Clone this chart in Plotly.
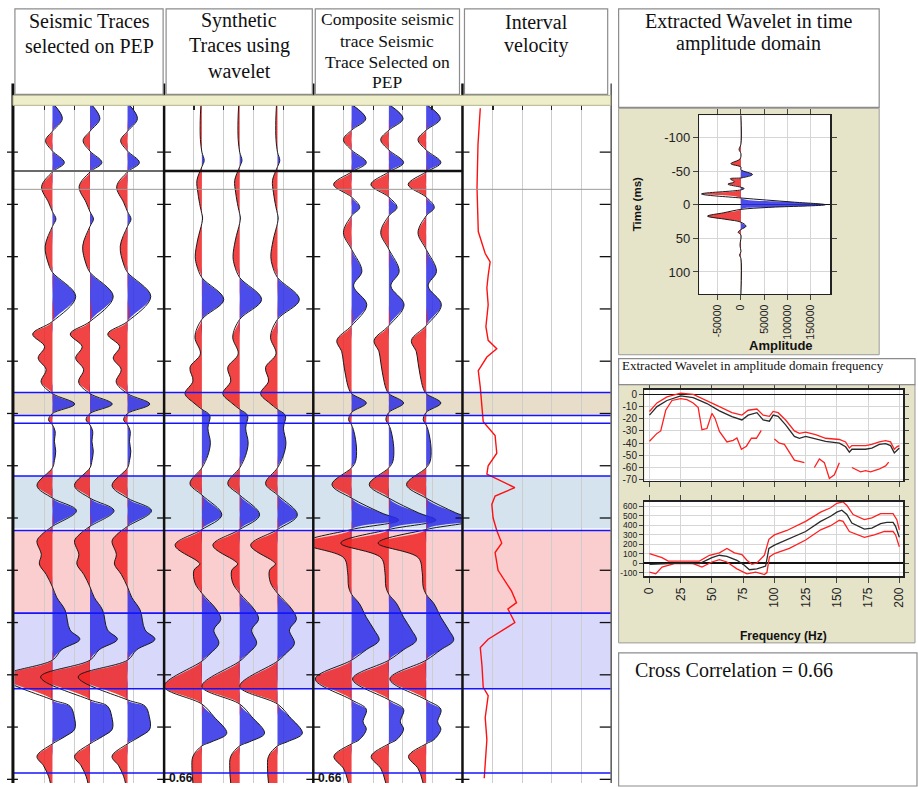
import plotly.graph_objects as go

W, H = 918, 787


def px(x):
    return x / W


def py(y):
    return 1 - y / H


# ---------------- data ----------------
TIME_TICKS = list(range(50, 651, 50))          # ms
TRACE_OFFSETS = [38, 76, 114]                   # trace baselines inside each 150-unit panel
PANEL_GRID = [30, 60, 90, 120]

# Seismic traces selected on PEP (time ms, amplitude)
SEIS_T = [5, 18, 30, 39, 49, 60, 69, 83, 98, 107, 114, 121, 140, 157, 165, 188, 212, 224, 236, 247,
          258, 270, 281, 291, 300, 306, 311, 317, 327, 336, 345, 352, 369, 381, 393, 408, 416, 422, 435, 444,
          454, 466, 476, 488, 507, 516, 526, 536, 552, 574, 580, 590, 602, 609, 616, 628, 637, 647, 654]
SEIS_A = [2, 10, 0, -7, 0, 12, 0, -11, -4, 0, 3.5, 0, -7.4, -4, 0, 23.5, 0, -20, -8, -14.5,
          -6.5, -11.5, 0, 22.5, 0, -4, 0, 2.7, 2, 3.3, 2, 0, -15.7, 0, 24.3, 0, -11, -15.7, -11.3, -13.3,
          -6.3, 0, 4.3, 12.7, 17.7, 27.7, 9.3, 0, -50, 0, 17.7, 22, 22.5, 12.7, 0, -15.7, -9, -4, -2]

# Synthetic traces using wavelet
SYN_T = [5, 20, 38, 50, 58, 64, 77, 89, 102, 109, 113, 118, 134, 150, 159, 170, 191, 210, 227, 243,
         256, 269, 281, 290, 296, 302, 314, 328, 340, 352, 367, 378, 397, 411, 426, 441, 444, 450, 462, 472,
         488, 497, 507, 520, 530, 537, 561, 578, 590, 606, 614, 618, 628, 640, 654]
SYN_A = [-1, -1.7, -1.5, 0, 2.3, 0, -5, -4, -1.7, 0, 0.7, 0, -4.3, -6.7, -5, 0, 22, 0, -7, -1.5,
         -12, -9, -17, -8, 0, 8, 6, 8.5, 6, 0, -12, 0, 20, 0, -27, -5, -2, -8, -7, 0,
         15, 19, 12, 17, 8, 0, -38, 0, 12, 25, 10, 0, -9, -10, -9]

# Composite seismic trace
COMP_T = [5, 18, 29, 38, 48, 60, 69, 81, 93, 103, 111, 127, 143, 164, 178, 196, 216, 230, 241, 251,
          264, 276, 281, 290, 299, 306, 311, 317, 333, 346, 352, 368, 381, 395, 402, 411, 424, 438, 452, 466,
          473, 482, 495, 507, 517, 526, 536, 554, 574, 583, 595, 602, 612, 616, 628, 640, 654]
COMP_A = [1, 14.5, 0, -8.3, 0, 15, 0, -18.3, 0, 8.3, 0, -8.3, 0, 10.5, 2, 15.5, 0, -15, -10, -8.3,
          -6, -3, 0, 15, 0, -3, 0, 2.3, 5, 4, 0, -20, 0, 30, 48, 0, -49, -8, -4, -3,
          0, 8, 15, 23, 28, 15, 0, -37, 0, 15, 11.7, 15, 8, 0, -18, -8, -3]

# Interval velocity (time ms, m/s)
VEL_T = [8, 43, 84, 126, 147, 155, 168, 180, 196, 217, 230, 238, 246, 259, 275, 292, 308, 321, 338, 350,
         358, 371, 379, 387, 400, 412, 424, 433, 450, 470, 481, 487, 500, 516, 524, 541, 562, 570, 591, 612,
         633, 649]
VEL_V = [1571, 1493, 1460, 1503, 1738, 1906, 1839, 1795, 1839, 1762, 1839, 2131, 1795, 1503, 1571, 1628, 1671,
         2074, 2131, 1839, 1795, 2745, 2074, 1963, 2007, 2131, 2299, 2074, 2175, 2634, 2802, 2510, 2745, 1839,
         1571, 1628, 1671, 1839, 1738, 1795, 1738, 1705]

# horizons (ms) and coloured zones (top, bottom, colour)
HORIZONS = [280, 302, 309.4, 359.8, 412, 491, 563.3, 644]
ZONE_TOP = [280, 359.8, 412, 491]
ZONE_BOT = [302, 409.7, 491, 563.3]
ZONE_COLORS = ["rgb(232,221,200)", "rgb(212,227,238)", "rgb(250,206,206)", "rgb(216,216,250)"]
MARKER_BLACK_T = 68.0
MARKER_GRAY_T = 85.6

# Extracted wavelet (time ms, amplitude)
WAV_T = [-133, -90, -82, -76, -68, -61, -56, -52, -45, -40, -38.5, -34, -30.6, -26, -24, -22, -16, -10, -4,
         0, 4, 7, 12, 17, 22, 26, 32, 37, 41, 45, 60, 70, 75, 80, 133]
WAV_A = [0, 0, -4000, 0, -2000, -21500, 0, 0, 25000, 2000, -23000, -14000, -28000, 0, 7000, 0, -85000, 0,
         110000, 182000, 60000, 0, -37000, -72000, -30000, 0, 11000, 0, -6000, 0, -2000, 0, -3000, 0, 0]

# Amplitude spectrum (Hz, dB)
FREQ_F = [0, 6, 14, 25, 35, 46, 56, 66, 74, 79, 86, 91, 96, 99, 103, 109, 116, 120, 125, 133,
          141, 152, 157, 160, 162, 173, 178, 184, 189, 193, 196, 198, 200]
FREQ_MEAN_DB = [-17, -10, -5, -1.3, -2.7, -7.5, -13.5, -18.3, -21, -17, -15, -21, -22, -17, -18, -25, -34.5,
                -36, -34.5, -36.6, -38.5, -40, -43, -47.4, -45, -45, -44, -41, -40.4, -42, -48, -46, -44]
FREQ_UP_DB = [-14, -7, -2, 1, 0, -5, -10, -15, -17, -13, -12, -17, -18, -14, -15, -21, -30, -32, -31, -33,
              -36, -37, -39, -44, -42, -42, -41, -39, -38, -39, -45, -43, -42]
FREQ_LO_F = [0, 6, 9, 13, 18, 25, 30, 35, 39, 42, 46, 50, 52.5, 56, 62, 67, 70, 73.6, 77.6, 81.6, 85.6, 89.5,
             None, 100, 104, 108, 112, 116, 124, None, 132, 136, 140, 144, 148, 152, None, 162, 169, 173, 177,
             183.6, 189, 191.5]
FREQ_LO_DB = [-38.5, -32, -30, -13, -5, -3.5, -4.3, -7, -10.8, -29, -28, -15.6, -19.7, -30.4, -39, -37.7, -35.8,
              -45, -42.5, -36, -36, -29.6, None, -36.6, -40, -41, -48, -54, -56, None, -60, -53, -56, -69, -66,
              -56, None, -60, -63.5, -62.6, -63.5, -61.4, -58.7, -55.5]

# Phase spectrum (Hz, degrees)
PH_MEAN_F = [0, 25, 40, 50, 56, 62, 70, 75, 80, 86, 93, 95.6, 100, 110, 125, 137, 145, 150, 154, 158,
             162, 172, 178, 185, 190, 195, 197, 200]
PH_MEAN = [-14, 0, -7, 57, 82, 71, 29, -14, -71, -61, -32, 154, 189, 243, 332, 439, 493, 536, 557, 511,
           421, 357, 368, 414, 429, 429, 386, 271]
PH_UP_F = [0, 10, 15, 25, 40, 48, 56, 62, 68, 74, 78, 82, 86, 92, 95.6, 100, 110, 125, 137, 145,
           150, 155, 158, 163, 172, 178, 185, 195, 198, 200]
PH_UP = [100, 57, 21, 21, 21, 82, 107, 154, 107, 89, 29, -14, 0, 82, 250, 296, 343, 439, 536, 582,
         629, 643, 607, 511, 457, 475, 521, 521, 457, 350]
PH_LO_F = [0, 5, 10, 20, 35, 42, 50, 56, 62, 70, 78, 85, 92, 94, 96, 100, 112, 125, 137, 145,
           152, 155, 160, 172, 180, 188, 195, 197, 200]
PH_LO = [-96, -114, -43, -7, -7, -43, 11, 36, 11, -61, -114, -96, -121, -100, 64, 100, 154, 243, 350, 393,
         450, 439, 332, 271, 296, 332, 332, 296, 171]

CROSS_CORR = 0.66

# ---------------- styles ----------------
RED = "rgba(238,35,35,0.85)"
BLUE = "rgba(45,45,230,0.85)"
SERIF = "Liberation Serif"
SANS = "Liberation Sans"

fig = go.Figure()


def add_wiggle(t, a, base, xaxis, yaxis):
    pos = [base + max(v, 0) for v in a]
    neg = [base + min(v, 0) for v in a]
    full = [base + v for v in a]
    basel = [base] * len(t)
    c = dict(xaxis=xaxis, yaxis=yaxis, mode="lines", hoverinfo="skip", showlegend=False)
    fig.add_trace(go.Scatter(x=basel, y=t, line=dict(width=0), **c))
    fig.add_trace(go.Scatter(x=pos, y=t, fill="tonextx", fillcolor=BLUE,
                             line=dict(width=0, shape="spline"), **c))
    fig.add_trace(go.Scatter(x=basel, y=t, line=dict(width=0), **c))
    fig.add_trace(go.Scatter(x=neg, y=t, fill="tonextx", fillcolor=RED,
                             line=dict(width=0, shape="spline"), **c))
    fig.add_trace(go.Scatter(x=full, y=t, line=dict(width=1, color="#1a1a1a", shape="spline"), **c))


for (T, A, ax) in [(SEIS_T, SEIS_A, "x"), (SYN_T, SYN_A, "x2"), (COMP_T, COMP_A, "x3")]:
    for off in TRACE_OFFSETS:
        add_wiggle(T, A, off, ax, "y")

fig.add_trace(go.Scatter(x=VEL_V, y=VEL_T, xaxis="x4", yaxis="y", mode="lines",
                         line=dict(color="#ff1010", width=1.4), hoverinfo="skip", showlegend=False))

add_wiggle(WAV_T, WAV_A, 0, "x5", "y5")

for xs, ys, col in [(FREQ_F, FREQ_UP_DB, "#ff2020"), (FREQ_LO_F, FREQ_LO_DB, "#ff2020"),
                    (FREQ_F, FREQ_MEAN_DB, "#2a2a2a")]:
    fig.add_trace(go.Scatter(x=xs, y=ys, xaxis="x6", yaxis="y6", mode="lines", connectgaps=False,
                             line=dict(color=col, width=1.3), hoverinfo="skip", showlegend=False))
for xs, ys, col in [(PH_UP_F, PH_UP, "#ff2020"), (PH_LO_F, PH_LO, "#ff2020"),
                    (PH_MEAN_F, PH_MEAN, "#2a2a2a")]:
    fig.add_trace(go.Scatter(x=xs, y=ys, xaxis="x7", yaxis="y7", mode="lines",
                             line=dict(color=col, width=1.3), hoverinfo="skip", showlegend=False))

# ---------------- axes ----------------
GRID = "#cdcdcd"
main_y_dom = [0, py(105)]
panel_px = [(13, 162), (163, 313), (314, 462), (464, 612)]


def main_x(i, rng, vals):
    return dict(domain=[px(panel_px[i][0]), px(panel_px[i][1])], range=rng, anchor="y", side="top",
                tickvals=vals, ticks="inside", ticklen=5, tickcolor="#222", tickwidth=1.2,
                showticklabels=False, showgrid=True, gridcolor=GRID, gridwidth=1,
                zeroline=False, showline=False, fixedrange=True)


layout = dict(
    width=W, height=H, margin=dict(l=0, r=0, t=0, b=0),
    paper_bgcolor="white", plot_bgcolor="rgba(0,0,0,0)",
    font=dict(family=SANS, color="#111"),
    showlegend=False, hovermode=False,
    xaxis=main_x(0, [0, 150], PANEL_GRID),
    xaxis2=main_x(1, [0, 150], PANEL_GRID),
    xaxis3=main_x(2, [0, 150], PANEL_GRID),
    xaxis4=main_x(3, [1000, 6000], [2000, 3000, 4000, 5000]),
    yaxis=dict(domain=main_y_dom, range=[653.5, 5.23], showgrid=False, zeroline=False,
               showticklabels=False, ticks="", showline=False, anchor="x"),
    xaxis5=dict(domain=[px(701), px(833)], anchor="y5", range=[-90000, 193000],
                tickvals=[-50000, 0, 50000, 100000, 150000],
                ticktext=["-50000", "0", "50000", "100000", "150000"], tickangle=-90,
                ticks="outside", ticklen=5, showline=True, linecolor="#222", linewidth=1.3,
                mirror="ticks", showgrid=True, gridcolor="#d6d6d6", zeroline=False,
                tickfont=dict(family=SANS, size=10.5, color="#222")),
    yaxis5=dict(domain=[py(295), py(115)], anchor="x5", range=[133, -133],
                tickvals=[-100, -50, 0, 50, 100], ticktext=["-100", "-50", "0", "50", "100"],
                ticks="outside", ticklen=5,
                showline=True, linecolor="#222", linewidth=1.3, mirror="ticks",
                showgrid=True, gridcolor="#d6d6d6", zeroline=True, zerolinecolor="#111",
                zerolinewidth=1.5, tickfont=dict(family=SANS, size=13, color="#222")),
    xaxis6=dict(domain=[px(646), px(906)], anchor="y6", range=[-4, 203],
                tickvals=list(range(0, 201, 25)), showticklabels=False, ticks="outside", ticklen=5,
                showline=True, linecolor="#222", linewidth=1.5, mirror="ticks",
                showgrid=True, gridcolor="#d6d6d6", zeroline=False),
    yaxis6=dict(domain=[py(483), py(391)], anchor="x6", range=[-71, 4],
                tickvals=[0, -10, -20, -30, -40, -50, -60, -70],
                ticktext=["0", "-10", "-20", "-30", "-40", "-50", "-60", "-70"],
                ticks="outside", ticklen=4, showline=True, linecolor="#222", linewidth=1.5,
                mirror="ticks", showgrid=True, gridcolor="#d6d6d6", zeroline=True,
                zerolinecolor="#111", zerolinewidth=1.5,
                tickfont=dict(family=SANS, size=10, color="#222")),
    xaxis7=dict(domain=[px(646), px(906)], anchor="y7", range=[-4, 203],
                tickvals=list(range(0, 201, 25)), tickangle=-90, ticks="outside", ticklen=5,
                showline=True, linecolor="#222", linewidth=1.5, mirror="ticks",
                showgrid=True, gridcolor="#d6d6d6", zeroline=False,
                tickfont=dict(family=SANS, size=12, color="#222")),
    yaxis7=dict(domain=[py(579), py(504)], anchor="x7", range=[-140, 645],
                tickvals=[-100, 0, 100, 200, 300, 400, 500, 600],
                ticktext=["-100", "0", "100", "200", "300", "400", "500", "600"],
                ticks="outside", ticklen=4, showline=True, linecolor="#222", linewidth=1.5,
                mirror="ticks", showgrid=True, gridcolor="#d6d6d6", zeroline=True,
                zerolinecolor="#111", zerolinewidth=1.5,
                tickfont=dict(family=SANS, size=8.5, color="#222")),
)

# ---------------- shapes ----------------
shapes = []


def rect(x0, y0, x1, y1, fill, line=None, lw=0, layer="above"):
    shapes.append(dict(type="rect", xref="paper", yref="paper", x0=px(x0), x1=px(x1),
                       y0=py(y1), y1=py(y0), fillcolor=fill,
                       line=dict(color=line or fill, width=lw), layer=layer))


def pline(x0, y0, x1, y1, color, width, layer="above"):
    shapes.append(dict(type="line", xref="paper", yref="paper", x0=px(x0), x1=px(x1),
                       y0=py(y0), y1=py(y1), line=dict(color=color, width=width), layer=layer))


def hline_t(t, x0, x1, color, width):
    shapes.append(dict(type="line", xref="paper", yref="y", x0=px(x0), x1=px(x1), y0=t, y1=t,
                       line=dict(color=color, width=width), layer="above"))


# coloured zones behind traces
for top, bot, col in zip(ZONE_TOP, ZONE_BOT, ZONE_COLORS):
    shapes.append(dict(type="rect", xref="paper", yref="y", x0=px(12), x1=px(612), y0=top, y1=bot,
                       fillcolor=col, line=dict(width=0), layer="below"))

# right-hand khaki panels with white plot areas
rect(620, 108, 882, 356, "rgb(229,227,200)", "#9a9a9a", 1, layer="below")
rect(701, 115, 833, 295, "white", layer="below")
rect(620, 386, 918, 646, "rgb(229,227,200)", "#9a9a9a", 1, layer="below")
rect(646, 391, 906, 483, "white", layer="below")
rect(646, 504, 906, 579, "white", layer="below")

# horizon lines and markers
hline_t(MARKER_GRAY_T, 12, 612, "#9a9a9a", 1)
hline_t(MARKER_BLACK_T, 12, 163, "#6a6a6a", 2)
hline_t(MARKER_BLACK_T, 163, 463, "#111", 2.5)
for t in HORIZONS:
    hline_t(t, 12, 612, "rgb(20,20,255)", 1.6)

# frame lines
pline(11, 83, 11, 787, "#111", 3)
for xs in [163, 313, 463]:
    pline(xs, 83, xs, 787, "#111", 2.5)
pline(612.5, 83, 612.5, 787, "#555", 1.5)

# time tick marks on frame and separators
for t in TIME_TICKS:
    shapes.append(dict(type="line", xref="paper", yref="y", x0=px(5), x1=px(16), y0=t, y1=t,
                       line=dict(color="#111", width=1.3), layer="above"))
    for xs in [163, 313, 463]:
        shapes.append(dict(type="line", xref="paper", yref="y", x0=px(xs - 7), x1=px(xs + 7),
                           y0=t, y1=t, line=dict(color="#111", width=1.3), layer="above"))
    shapes.append(dict(type="line", xref="paper", yref="y", x0=px(601), x1=px(612), y0=t, y1=t,
                       line=dict(color="#111", width=1.3), layer="above"))

# top strip
rect(11, 95, 612, 105, "#efeecb", "#b5b28a", 1)

# header boxes
for (x0, y0, x1, y1) in [(13, 8, 162, 94), (165, 8, 312, 94), (315, 8, 460, 94), (465, 8, 609, 94),
                         (620, 8, 882, 107), (620, 360, 918, 386), (620, 656, 920, 790)]:
    rect(x0, y0, x1, y1, "white", "#8c8c8c", 1.2)

layout["shapes"] = shapes

# ---------------- annotations ----------------
ann = []


def text(x, y, s, size, family=SERIF, xanchor="center", yanchor="middle", bold=False, angle=0):
    ann.append(dict(xref="paper", yref="paper", x=px(x), y=py(y), text=f"<b>{s}</b>" if bold else s,
                    showarrow=False, xanchor=xanchor, yanchor=yanchor, textangle=angle,
                    font=dict(family=family, size=size, color="#111")))


text(88, 20, "Seismic Traces", 20)
text(88, 45, "selected on PEP", 20)
text(238.5, 20, "Synthetic", 20)
text(238.5, 45, "Traces using", 20)
text(238.5, 70, "wavelet", 20)
text(387.5, 18, "Composite seismic", 17.5)
text(387.5, 40, "trace Seismic", 17.5)
text(387.5, 61, "Trace Selected on", 17.5)
text(387.5, 82, "PEP", 17.5)
text(537, 21, "Interval", 20)
text(537, 45, "velocity", 20)
text(751, 20, "Extracted Wavelet in time", 20)
text(751, 43, "amplitude domain", 20)
text(621, 367, "Extracted Wavelet in amplitude domain frequency", 13, xanchor="left")
text(634, 673, f"Cross Correlation = {CROSS_CORR:.2f}", 20, xanchor="left")
text(166, 773, f"{CROSS_CORR:.2f}", 12, family=SANS, xanchor="left", yanchor="top", bold=True)
text(316, 773, f"{CROSS_CORR:.2f}", 12, family=SANS, xanchor="left", yanchor="top", bold=True)
text(638, 205, "Time (ms)", 11.5, family=SANS, bold=True, angle=-90)
text(783, 347, "Amplitude", 13, family=SANS, bold=True)
text(786, 639, "Frequency (Hz)", 12, family=SANS, bold=True)

layout["annotations"] = ann

fig.update_layout(**layout)
fig.write_html("out.html", config={"displayModeBar": False, "staticPlot": True},
               post_script="document.body.style.margin='0';document.body.style.overflow='hidden';")
